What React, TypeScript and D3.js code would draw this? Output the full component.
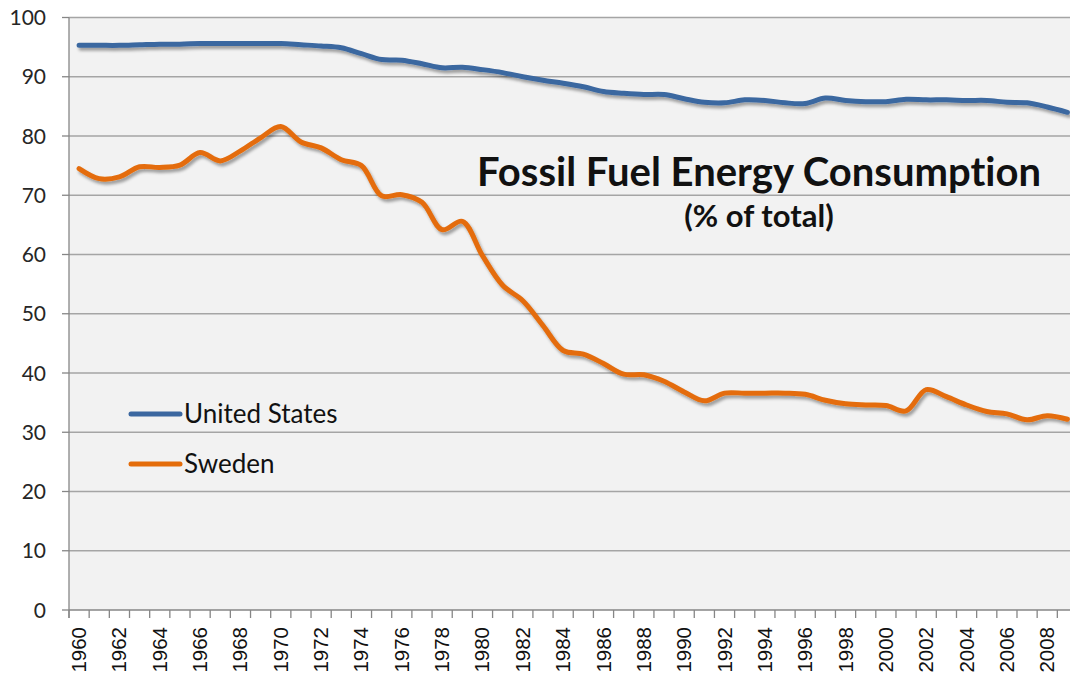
import React from 'react'
import * as d3 from 'd3'

const years = d3.range(1960, 2010)

const unitedStates = [
  95.3, 95.3, 95.3, 95.4, 95.5, 95.5, 95.6, 95.6, 95.6, 95.6,
  95.6, 95.4, 95.2, 94.9, 93.9, 92.9, 92.8, 92.2, 91.5, 91.6,
  91.2, 90.7, 90.0, 89.4, 88.9, 88.3, 87.5, 87.2, 87.0, 87.0,
  86.3, 85.7, 85.6, 86.1, 86.0, 85.6, 85.5, 86.4, 86.0, 85.8,
  85.8, 86.2, 86.1, 86.1, 86.0, 86.0, 85.7, 85.6, 84.9, 84.0,
]

const sweden = [
  74.5, 72.8, 73.1, 74.8, 74.7, 75.1, 77.2, 75.8, 77.5, 79.7,
  81.6, 79.0, 78.0, 76.0, 75.0, 69.9, 70.1, 68.8, 64.2, 65.6,
  59.8, 54.8, 52.2, 48.0, 43.8, 43.2, 41.6, 39.8, 39.7, 38.6,
  36.8, 35.3, 36.6, 36.6, 36.6, 36.6, 36.4, 35.4, 34.8, 34.6,
  34.5, 33.6, 37.2, 36.0, 34.6, 33.5, 33.1, 32.1, 32.8, 32.2,
]

const yTicks = [0, 10, 20, 30, 40, 50, 60, 70, 80, 90, 100]
const xLabels = years.filter(y => y % 2 === 0)

const series = [
  { name: 'United States', values: unitedStates, color: '#3b67a0' },
  { name: 'Sweden', values: sweden, color: '#e46c0a' },
]

const title = 'Fossil Fuel Energy Consumption'
const subtitle = '(% of total)'

export default function App() {
  const width = 1070
  const height = 679
  const left = 69
  const top = 17.5
  const bottom = 610
  const step = 20.17

  const x = d3.scaleBand<number>()
    .domain(years)
    .range([left, left + years.length * step])
    .padding(0)

  const y = d3.scaleLinear().domain([0, 100]).range([bottom, top])

  const cx = (yr: number) => (x(yr) ?? 0) + x.bandwidth() / 2

  const line = d3.line<number>()
    .x((_, i) => cx(years[i]))
    .y(d => y(d))
    .curve(d3.curveCatmullRom.alpha(0.5))

  // tick marks sit on band edges, Excel style
  const tickEdges = years.map(yr => x(yr) ?? 0).concat([left + years.length * step])

  const noLig = { fontVariantLigatures: 'none' as const, fontFeatureSettings: '"liga" 0' }

  return (
    <svg width={width} height={height} style={{ position: 'absolute', left: 0, top: 0 }}>
      <defs>
        <filter id="shadow" x="-5%" y="-20%" width="110%" height="160%">
          <feDropShadow dx="2" dy="3" stdDeviation="1.8" floodColor="#000" floodOpacity="0.35" />
        </filter>
      </defs>
      <rect width={width} height={height} fill="#fff" />
      <rect x={left} y={top} width={width - left} height={bottom - top} fill="#f2f2f2" />

      {/* gridlines + y ticks */}
      {yTicks.map(t => (
        <g key={t}>
          {t > 0 && (
            <line x1={left} x2={width} y1={y(t)} y2={y(t)} stroke="#a5a5a5" strokeWidth={1.3} />
          )}
          <line x1={left - 7} x2={left} y1={y(t)} y2={y(t)} stroke="#868686" strokeWidth={1.3} />
          <text x={46} y={y(t)} dy="0.36em" textAnchor="end"
            style={{ fontFamily: 'Lato, sans-serif', fontSize: 21, fill: '#262626' }}>
            {t}
          </text>
        </g>
      ))}

      {/* axes */}
      <line x1={left} x2={left} y1={top} y2={bottom + 8} stroke="#868686" strokeWidth={1.3} />
      <line x1={left} x2={width} y1={bottom} y2={bottom} stroke="#868686" strokeWidth={1.3} />
      {tickEdges.map((tx, i) => (
        <line key={i} x1={tx} x2={tx} y1={bottom} y2={bottom + 8} stroke="#868686" strokeWidth={1.3} />
      ))}
      {xLabels.map(yr => (
        <text key={yr} transform={`translate(${cx(yr) + 7},627) rotate(-90)`} textAnchor="end"
          style={{ fontFamily: '"Liberation Sans", Arial, sans-serif', fontSize: 20.5, fill: '#111' }}>
          {yr}
        </text>
      ))}

      {/* lines */}
      {series.map(s => (
        <path key={s.name} d={line(s.values) ?? ''} fill="none" stroke={s.color}
          strokeWidth={5} strokeLinejoin="round" strokeLinecap="round" filter="url(#shadow)" />
      ))}

      {/* legend */}
      {series.map((s, i) => (
        <g key={s.name} transform={`translate(131,${414 + i * 50})`}>
          <line x1={0} x2={49} y1={0} y2={0} stroke={s.color} strokeWidth={5} strokeLinecap="round" />
          <text x={53} y={0} dy="0.36em"
            style={{ fontFamily: 'Lato, sans-serif', fontSize: 26, fill: '#111' }}>
            {s.name}
          </text>
        </g>
      ))}

      {/* title */}
      <text x={759} y={186} textAnchor="middle"
        style={{ fontFamily: 'Lato, sans-serif', fontWeight: 700, fontSize: 40, fill: '#111', ...noLig }}>
        {title}
      </text>
      <text x={759} y={227} textAnchor="middle"
        style={{ fontFamily: 'Lato, sans-serif', fontWeight: 700, fontSize: 31, fill: '#111', ...noLig }}>
        {subtitle}
      </text>
    </svg>
  )
}
